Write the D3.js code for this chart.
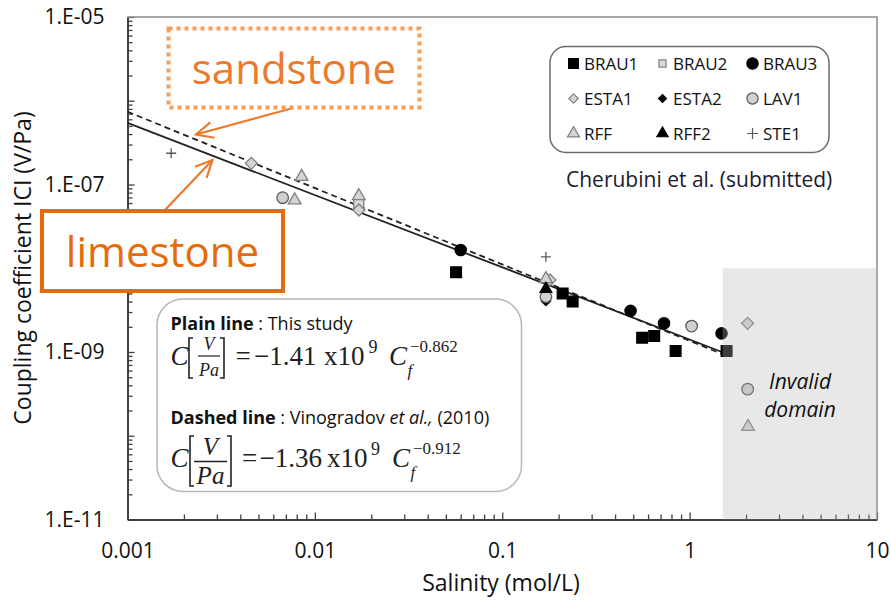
<!DOCTYPE html>
<html>
<head>
<meta charset="utf-8">
<script src="https://cdn.jsdelivr.net/npm/d3@7"></script>
<style>
  html, body { margin: 0; padding: 0; background: #fff; }
  svg { display: block; }
</style>
</head>
<body>
<svg id="chart" width="891" height="603" font-family="Open Sans, Liberation Sans, sans-serif"></svg>
<script>
// ---------------- DATA ----------------
const xTickLabels = ["0.001", "0.01", "0.1", "1", "10"];
const xMajor = [0.001, 0.01, 0.1, 1, 10];
const yTickLabels = ["1.E-11", "1.E-09", "1.E-07", "1.E-05"];
const yLabelled = [1e-11, 1e-9, 1e-7, 1e-5];

const seriesNames = ["BRAU1", "BRAU2", "BRAU3", "ESTA1", "ESTA2", "LAV1", "RFF", "RFF2", "STE1"];

// [salinity (mol/L), |C| (V/Pa)]
const brau1 = [[0.0567, 8.95e-9], [0.21, 5.0e-9], [0.2375, 4.0e-9], [0.558, 1.48e-9], [0.647, 1.55e-9], [0.842, 1.03e-9], [1.575, 1.03e-9]];
const brau2 = [[0.01714, 6.0e-8]];
const brau3 = [[0.060, 1.65e-8], [0.484, 3.1e-9], [0.73, 2.2e-9], [1.48, 1.67e-9]];
const esta1 = [[0.00458, 1.79e-7], [0.01718, 4.96e-8], [0.1797, 7.24e-9], [2.04, 2.2e-9]];
const esta2 = [[0.171, 4.07e-9]];
const lav1  = [[0.00673, 6.95e-8], [0.171, 4.57e-9], [1.025, 2.04e-9], [2.04, 3.6e-10]];
const rff   = [[0.0085, 1.24e-7], [0.0078, 6.5e-8], [0.01714, 7.3e-8], [0.171, 7.45e-9], [2.05, 1.28e-10]];
const rff2  = [[0.171, 5.65e-9]];
const ste1  = [[0.00171, 2.36e-7], [0.171, 1.37e-8]];

// fitted lines: end points (salinity, |C|)
const plainLine  = [[0.001, 5.44e-7], [1.5, 9.94e-10]];
const dashedLine = [[0.001, 7.4e-7], [1.5, 9.4e-10]];

// invalid domain extent
const invalidX = [1.5, 10];
const invalidY = [1e-11, 1e-8];

const seriesData = { BRAU1: brau1, BRAU2: brau2, BRAU3: brau3, ESTA1: esta1, ESTA2: esta2, LAV1: lav1, RFF: rff, RFF2: rff2, STE1: ste1 };

// ---------------- STYLES ----------------
const styles = {
  BRAU1: { shape: "square",  size: 115, legendSize: 95, fill: "#000", stroke: "#000" },
  BRAU2: { shape: "square",  size: 100, legendSize: 50, fill: "#d9d9d9", stroke: "#808080" },
  BRAU3: { shape: "circle",  size: 100, legendSize: 100, fill: "#000", stroke: "#000" },
  ESTA1: { shape: "diamond", size: 72,  legendSize: 45, fill: "#d4d4d4", stroke: "#808080" },
  ESTA2: { shape: "diamond", size: 45,  legendSize: 32, fill: "#000", stroke: "#000" },
  LAV1:  { shape: "circle",  size: 105, legendSize: 100, fill: "#d0d0d0", stroke: "#595959" },
  RFF:   { shape: "triangle",size: 70,  legendSize: 62, fill: "#d4d4d4", stroke: "#808080" },
  RFF2:  { shape: "triangle",size: 60,  legendSize: 55, fill: "#000", stroke: "#000" },
  STE1:  { shape: "plus",    size: 5,   legendSize: 5.5, fill: "none", stroke: "#595959" }
};

const SERIF = "'Liberation Serif', 'DejaVu Serif', serif";
const SANS = "'Open Sans', 'Liberation Sans', sans-serif";

const svg = d3.select("#chart");
const M = { left: 127.5, right: 877, top: 17, bottom: 519.5 };

const x = d3.scaleLog().domain([0.001, 10]).range([M.left, M.right]);
const y = d3.scaleLog().domain([1e-11, 1e-5]).range([M.bottom, M.top]);

function symbolPath(shape, size) {
  if (shape === "plus") return `M${-size},0H${size}M0,${-size}V${size}`;
  const t = { square: d3.symbolSquare, circle: d3.symbolCircle, diamond: d3.symbolSquare, triangle: d3.symbolTriangle }[shape];
  return d3.symbol().type(t).size(size)();
}
function symbolTransform(shape) { return shape === "diamond" ? " rotate(45)" : ""; }

// ---------------- AXES ----------------
const xTicks = [];
for (let e = -3; e <= 1; e++) for (let k = 1; k <= 9; k++) { const v = k * Math.pow(10, e); if (v <= 10.0001) xTicks.push(+v.toPrecision(3)); }
const yTicks = [];
for (let e = -11; e <= -5; e++) for (let k = 1; k <= 9; k++) { const v = k * Math.pow(10, e); if (v <= 1.0001e-5) yTicks.push(+v.toPrecision(3)); }

const isMajorX = v => xMajor.some(m => Math.abs(v / m - 1) < 1e-6);
const isMajorY = v => Math.abs(Math.log10(v) - Math.round(Math.log10(v))) < 1e-6;

const gx = svg.append("g").attr("transform", `translate(0,${M.bottom})`)
  .call(d3.axisBottom(x).tickValues(xTicks).tickSizeOuter(0).tickSizeInner(-5).tickPadding(24)
    .tickFormat(v => { const i = xMajor.findIndex(m => Math.abs(v / m - 1) < 1e-6); return i >= 0 ? xTickLabels[i] : ""; }));
gx.selectAll(".tick line").attr("y2", d => isMajorX(d) ? -7 : -5);

const gy = svg.append("g").attr("transform", `translate(${M.left},0)`)
  .call(d3.axisLeft(y).tickValues(yTicks).tickSizeOuter(0).tickSizeInner(-5).tickPadding(23)
    .tickFormat(v => { const i = yLabelled.findIndex(m => Math.abs(v / m - 1) < 1e-6); return i >= 0 ? yTickLabels[i] : ""; }));
gy.selectAll(".tick line").attr("x2", d => isMajorY(d) ? 7 : 5);

[gx, gy].forEach(g => {
  g.attr("font-family", SANS);
  g.select(".domain").attr("stroke", "#404040").attr("stroke-width", 2);
  g.selectAll(".tick line").attr("stroke", "#404040").attr("stroke-width", 1.3);
  g.selectAll(".tick text").style("font-family", SANS).attr("font-size", 21).attr("fill", "#111");
});

// plot frame top/right
svg.append("path")
  .attr("d", `M${M.left},${M.top}H${M.right}V${M.bottom}`)
  .attr("fill", "none").attr("stroke", "#8a8a8a").attr("stroke-width", 1.5);

// axis titles
svg.append("text").attr("x", 501).attr("y", 591).attr("text-anchor", "middle")
  .attr("font-size", 23).attr("fill", "#111").text("Salinity (mol/L)");
svg.append("text").attr("transform", `translate(31,268) rotate(-90)`).attr("text-anchor", "middle")
  .attr("font-size", 23).attr("fill", "#111").text("Coupling coefficient ICI (V/Pa)");

// ---------------- FIT LINES ----------------
const line = d3.line().x(d => x(d[0])).y(d => y(d[1]));
svg.append("path").attr("d", line(dashedLine)).attr("fill", "none")
  .attr("stroke", "#222").attr("stroke-width", 1.8).attr("stroke-dasharray", "6,4");
svg.append("path").attr("d", line(plainLine)).attr("fill", "none")
  .attr("stroke", "#222").attr("stroke-width", 1.8);

// ---------------- POINTS ----------------
const gp = svg.append("g");
seriesNames.forEach(name => {
  const st = styles[name];
  gp.selectAll(null).data(seriesData[name]).enter().append("path")
    .attr("d", symbolPath(st.shape, st.size))
    .attr("transform", d => `translate(${x(d[0])},${y(d[1])})` + symbolTransform(st.shape))
    .attr("fill", st.fill).attr("stroke", st.stroke).attr("stroke-width", 1.3);
});

// invalid domain overlay
svg.append("rect")
  .attr("x", x(invalidX[0])).attr("y", y(invalidY[1]))
  .attr("width", x(invalidX[1]) - x(invalidX[0])).attr("height", y(invalidY[0]) - y(invalidY[1]))
  .attr("fill", "rgb(182,182,182)").attr("fill-opacity", 0.32);
svg.append("text").attr("x", 800).attr("y", 389).attr("text-anchor", "middle")
  .attr("font-size", 21).attr("font-style", "italic").attr("fill", "#111").text("Invalid");
svg.append("text").attr("x", 800).attr("y", 417).attr("text-anchor", "middle")
  .attr("font-size", 21).attr("font-style", "italic").attr("fill", "#111").text("domain");

// ---------------- LEGEND ----------------
svg.append("rect").attr("x", 550).attr("y", 46.5).attr("width", 279).attr("height", 106)
  .attr("rx", 16).attr("fill", "#fff").attr("stroke", "#6b6b6b").attr("stroke-width", 1.5);
const colX = [573.5, 662.5, 752.5];
const rowY = [63.5, 98.5, 133.5];
seriesNames.forEach((name, i) => {
  const st = styles[name];
  const cx = colX[i % 3], cy = rowY[Math.floor(i / 3)];
  svg.append("path").attr("d", symbolPath(st.shape, st.legendSize))
    .attr("transform", `translate(${cx},${cy})` + symbolTransform(st.shape))
    .attr("fill", st.fill).attr("stroke", st.stroke).attr("stroke-width", 1.2);
  svg.append("text").attr("x", cx + 10.5).attr("y", cy + 6.2).attr("font-size", 17).attr("fill", "#111").text(name);
});
svg.append("text").attr("x", 566).attr("y", 187).attr("font-size", 21).attr("fill", "#1c1c2c")
  .text("Cherubini et al. (submitted)");

// ---------------- EQUATION BOX ----------------
svg.append("rect").attr("x", 157).attr("y", 299).attr("width", 364.5).attr("height", 192.5)
  .attr("rx", 26).attr("fill", "#fff").attr("fill-opacity", 0.9).attr("stroke", "#b8b8b8").attr("stroke-width", 1.5);

const eq = svg.append("g").attr("fill", "#222");
function t(xp, yp, str, size, opts = {}) {
  const e = eq.append("text").attr("x", xp).attr("y", yp).attr("font-size", size)
    .style("font-family", opts.serif ? SERIF : SANS);
  if (opts.italic) e.attr("font-style", "italic");
  if (opts.bold) e.attr("font-weight", "bold");
  if (opts.anchor) e.attr("text-anchor", opts.anchor);
  e.text(str);
  return e;
}
function bracket(xp, y0, y1, dir) {
  eq.append("path").attr("d", `M${xp + 4 * dir},${y0}H${xp}V${y1}H${xp + 4 * dir}`)
    .attr("fill", "none").attr("stroke", "#222").attr("stroke-width", 1.6);
}
// line 1
const l1 = eq.append("text").attr("x", 170.5).attr("y", 329.5).attr("font-size", 18).attr("fill", "#111");
l1.append("tspan").attr("font-weight", "bold").text("Plain line");
l1.append("tspan").text(" : This study");
t(170.5, 365, "C", 27, { serif: true, italic: true });
bracket(189, 338, 378, 1);
t(209, 350, "V", 18, { serif: true, italic: true, anchor: "middle" });
eq.append("line").attr("x1", 198).attr("x2", 220).attr("y1", 356).attr("y2", 356).attr("stroke", "#222").attr("stroke-width", 1.2);
t(209, 375.5, "Pa", 18, { serif: true, italic: true, anchor: "middle" });
bracket(224, 338, 378, -1);
t(235.5, 365, "=", 27, { serif: true });
t(254, 365, "\u22121.41", 27, { serif: true });
t(324, 365, "x10", 27, { serif: true });
t(368.5, 353, "9", 18, { serif: true });
t(389, 365, "C", 27, { serif: true, italic: true });
t(407.5, 376, "f", 17, { serif: true, italic: true });
t(410, 352, "\u22120.862", 17, { serif: true });

// line 2
const l2 = eq.append("text").attr("x", 170.5).attr("y", 424).attr("font-size", 18).attr("fill", "#111");
l2.append("tspan").attr("font-weight", "bold").text("Dashed line");
l2.append("tspan").text(" : Vinogradov ");
l2.append("tspan").attr("font-style", "italic").text("et al.,");
l2.append("tspan").text(" (2010)");
t(170.5, 467, "C", 27, { serif: true, italic: true });
bracket(190, 436, 486, 1);
t(210.5, 455, "V", 25, { serif: true, italic: true, anchor: "middle" });
eq.append("line").attr("x1", 194).attr("x2", 227).attr("y1", 461.5).attr("y2", 461.5).attr("stroke", "#222").attr("stroke-width", 1.3);
t(210.5, 484, "Pa", 25, { serif: true, italic: true, anchor: "middle" });
bracket(231, 436, 486, -1);
t(242, 467, "=", 27, { serif: true });
t(259.5, 467, "\u22121.36", 27, { serif: true });
t(327, 467, "x10", 27, { serif: true });
t(371, 455, "9", 18, { serif: true });
t(392, 467, "C", 27, { serif: true, italic: true });
t(410.5, 478, "f", 17, { serif: true, italic: true });
t(413, 454, "\u22120.912", 17, { serif: true });

// ---------------- ORANGE ANNOTATIONS ----------------
const defs = svg.append("defs");
defs.append("marker").attr("id", "arrowOpen").attr("viewBox", "-20 -10 22 20")
  .attr("refX", 0).attr("refY", 0).attr("markerWidth", 22).attr("markerHeight", 20)
  .attr("markerUnits", "userSpaceOnUse").attr("orient", "auto")
  .append("path").attr("d", "M-17,-8L0,0L-17,8").attr("fill", "none")
  .attr("stroke", "#ec7a2c").attr("stroke-width", 2.2);

svg.append("line").attr("x1", 293).attr("y1", 108).attr("x2", 196).attr("y2", 134.5)
  .attr("stroke", "#ec7a2c").attr("stroke-width", 2.2).attr("marker-end", "url(#arrowOpen)");
svg.append("line").attr("x1", 165).attr("y1", 210).attr("x2", 212.5).attr("y2", 160)
  .attr("stroke", "#ec7a2c").attr("stroke-width", 2.2).attr("marker-end", "url(#arrowOpen)");

svg.append("rect").attr("x", 168.5).attr("y", 28.5).attr("width", 251).attr("height", 79)
  .attr("fill", "#fff").attr("stroke", "#f59d55").attr("stroke-width", 4).attr("stroke-dasharray", "4,4");
svg.append("text").attr("x", 294).attr("y", 83.5).attr("text-anchor", "middle")
  .attr("font-size", 42).attr("fill", "#ec7a2c").text("sandstone");

svg.append("rect").attr("x", 42).attr("y", 211).attr("width", 241).attr("height", 80)
  .attr("fill", "#fff").attr("stroke", "#e56c0c").attr("stroke-width", 4);
svg.append("text").attr("x", 162.5).attr("y", 266.5).attr("text-anchor", "middle")
  .attr("font-size", 42).attr("fill", "#e56c0c").text("limestone");
</script>
</body>
</html>
